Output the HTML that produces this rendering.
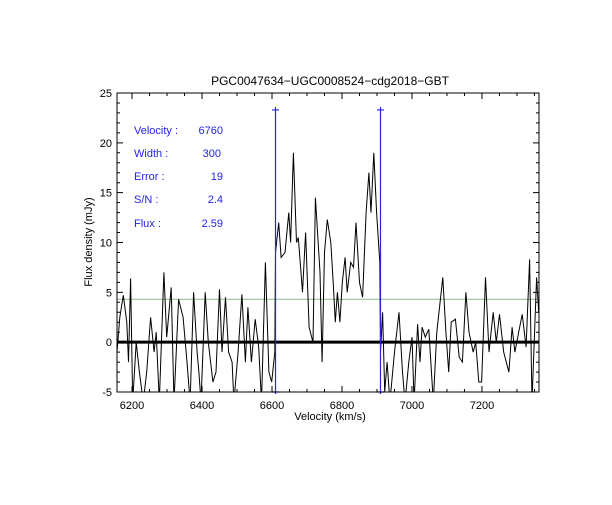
<!DOCTYPE html>
<html><head><meta charset="utf-8"><style>
body{margin:0;background:#fff;}
svg text{font-family:"Liberation Sans",sans-serif;}
</style></head><body>
<svg id="chart" width="612" height="500" xmlns="http://www.w3.org/2000/svg">
<rect width="612" height="500" fill="#fff"/>
<text x="330" y="85" font-size="12" text-anchor="middle">PGC0047634−UGC0008524−cdg2018−GBT</text>
<text x="330" y="420" font-size="11" text-anchor="middle">Velocity (km/s)</text>
<text transform="translate(92,242) rotate(-90)" font-size="11" text-anchor="middle">Flux density (mJy)</text>
<g id="info" fill="#2222ee" font-size="11">
<text x="134" y="134">Velocity :</text><text x="223" y="134" text-anchor="end">6760</text>
<text x="134" y="157">Width :</text><text x="221" y="157" text-anchor="end">300</text>
<text x="134" y="180">Error :</text><text x="223" y="180" text-anchor="end">19</text>
<text x="134" y="203">S/N :</text><text x="223" y="203" text-anchor="end">2.4</text>
<text x="134" y="227">Flux :</text><text x="223" y="227" text-anchor="end">2.59</text>
</g>
<g id="plot"></g>
</svg>
<script>
const velocities=[6157,6165,6175,6185,6190,6196,6202,6212,6221,6232,6242,6253,6263,6269,6278,6291,6299,6312,6320,6333,6346,6357,6366,6376,6386,6391,6397,6409,6418,6431,6440,6450,6457,6467,6476,6486,6491,6503,6514,6524,6531,6541,6552,6562,6570,6581,6591,6599,6608,6610,6619,6626,6637,6648,6653,6661,6670,6675,6687,6696,6706,6717,6724,6737,6743,6750,6758,6768,6775,6781,6787,6794,6801,6809,6815,6825,6833,6840,6850,6859,6869,6877,6883,6891,6899,6908,6910,6916,6922,6929,6937,6950,6963,6973,6980,6991,7000,7006,7016,7023,7029,7038,7048,7061,7071,7088,7097,7105,7112,7124,7135,7144,7154,7163,7175,7182,7191,7199,7210,7220,7232,7241,7250,7262,7277,7286,7294,7305,7315,7326,7336,7343,7356,7362];
const flux=[-1,2.5,4.7,2,-2,6.4,-6,0,-3,-6,-3,2.5,-1,1,-6,7,0.5,5.5,-6,4.3,2.5,-2,-6,5,-1,-3,-6,5,0,-4,-3,5.3,-1,4.5,-1,-2,-6,-1,4.8,-2,3.5,-2,2.3,-0.5,-6,8,-3,-4,-1,9,12,8.5,9,13,10,19,10,10.5,5,11,1.5,0,14.5,7,-2,9,12.3,10,6,2,5,2,6,8.5,5,8,7.5,12,6,4.5,13,17,13,19,13,8,-1,3,-5,-2,-6,-1,3,-3,-6,-2,0.5,-6,1.8,-2,1.5,0.5,1.3,-6,1,6.5,1,-3,2,2.3,-1.5,-2,5,1,-1,0,-4,-4,6.5,-1,3,0,2.8,-1,-3,1.5,-1,1,2.8,-0.5,8.3,-6,6.5,3];
const xTicks=[6200,6400,6600,6800,7000,7200];
const yTicks=[-5,0,5,10,15,20,25];
const markers=[6610,6910];
const markerTop=23.3;
const threshold=4.3;
const L=117,R=539,T=93,B=392,VMIN=6157,VMAX=7363,YMIN=-5,YMAX=25;
const sx=v=>L+(v-VMIN)/(VMAX-VMIN)*(R-L);
const sy=f=>B-(f-YMIN)/(YMAX-YMIN)*(B-T);
const NS='http://www.w3.org/2000/svg';
const g=document.getElementById('plot');
function mk(tag,a){const e=document.createElementNS(NS,tag);for(const k in a)e.setAttribute(k,a[k]);g.appendChild(e);return e;}
const defs=mk('defs',{});
const cp=document.createElementNS(NS,'clipPath');cp.setAttribute('id','clip');
const cr=document.createElementNS(NS,'rect');cr.setAttribute('x',L);cr.setAttribute('y',T);cr.setAttribute('width',R-L);cr.setAttribute('height',B-T);
cp.appendChild(cr);defs.appendChild(cp);
const z=mk('line',{x1:L,x2:R,y1:sy(0),y2:sy(0),stroke:'#000','stroke-width':3});


const th=mk('line',{x1:L,x2:R,y1:sy(threshold),y2:sy(threshold),stroke:'#88bb88','stroke-width':1});


let d='';velocities.forEach((v,i)=>{d+=(i?'L':'M')+sx(v).toFixed(1)+','+sy(flux[i]).toFixed(1);});
const sp=mk('path',{d:d,fill:'none',stroke:'#000','stroke-width':1,'clip-path':'url(#clip)'});


markers.forEach((m,i)=>{
 const x=sx(m),yt=sy(markerTop),yb=sy(-5);
 const ln=mk('path',{d:`M${x},${yb+2}V${yt-3}M${x-3.5},${yt}H${x+3.5}M${x-3.5},${yb}H${x+3.5}`,stroke:'#2222ee','stroke-width':1.2,fill:'none'});
 
 
});
const fr=mk('rect',{x:L,y:T,width:R-L,height:B-T,fill:'none',stroke:'#000','stroke-width':1});


let td='';
for(let v=6200;v<=VMAX;v+=50){const x=sx(v),len=(v%200===0)?6:3;td+=`M${x},${B}v${-len}M${x},${T}v${len}`;}
for(let f=YMIN;f<=YMAX;f+=1){const y=sy(f),len=(f%5===0)?6:3;td+=`M${L},${y}h${len}M${R},${y}h${-len}`;}
const tk=mk('path',{d:td,stroke:'#000','stroke-width':1});


xTicks.forEach(v=>{const t=mk('text',{x:sx(v),y:B+17,'font-size':11,'text-anchor':'middle'});t.textContent=v;
 
 });
yTicks.forEach(f=>{const t=mk('text',{x:L-5,y:sy(f)+4,'font-size':11,'text-anchor':'end'});t.textContent=f;
 
 });
</script>
</body></html>
